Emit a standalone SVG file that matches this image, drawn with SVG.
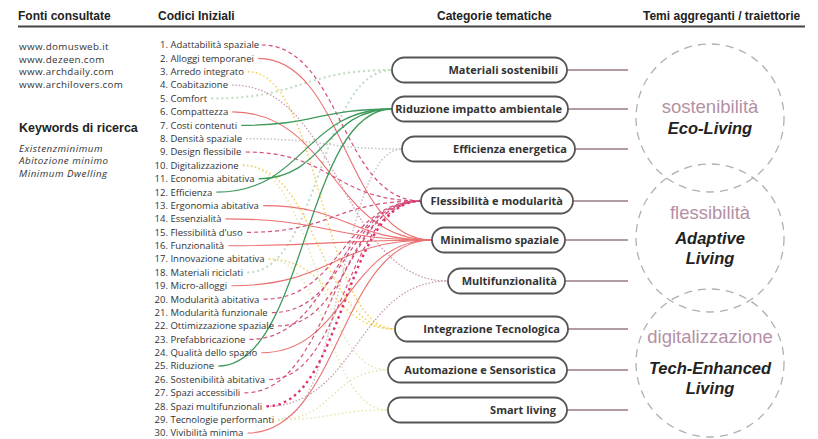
<svg xmlns="http://www.w3.org/2000/svg" width="818" height="439" viewBox="0 0 818 439">
<style>
.hdr{font-family:"Liberation Sans",Arial,sans-serif;font-weight:bold;font-size:12px;fill:#222}
.src{font-family:"Open Sans",sans-serif;font-size:9.8px;letter-spacing:0.35px;fill:#333}
.kwt{font-family:"Liberation Sans",Arial,sans-serif;font-weight:bold;font-size:12.5px;fill:#222}
.kw{font-family:"Open Sans",sans-serif;font-style:italic;font-size:9.8px;letter-spacing:0.5px;fill:#333}
.code{font-family:"Open Sans",sans-serif;font-size:9.5px;fill:#333}
.box{fill:#fff;stroke:#555;stroke-width:1.8}
.cat{font-family:"Open Sans",sans-serif;font-weight:bold;font-size:11px;fill:#333;text-anchor:end}
.out{stroke:#9a7a88;stroke-width:1.5;fill:none}
.circ{fill:none;stroke:#b0b0b0;stroke-width:1.3;stroke-dasharray:8 6}
.theme{font-family:"Liberation Sans",Arial,sans-serif;font-size:18.5px;fill:#b58fa5;text-anchor:middle}
.eng{font-family:"Liberation Sans",Arial,sans-serif;font-weight:bold;font-style:italic;font-size:16.5px;fill:#222;text-anchor:middle}
#connectors path{fill:none}
.g{stroke:#3e9a5c;stroke-width:1.3}
.r{stroke:#ec7070;stroke-width:1.1}
.m{stroke:#d4507e;stroke-width:1.2;stroke-dasharray:4 3}
.mh{stroke:#e0306e;stroke-width:2.4;stroke-dasharray:2.5 3.5}
.pg{stroke:#bfdcc0;stroke-width:2;stroke-dasharray:2 3}
.gr{stroke:#c4c4c4;stroke-width:1.5;stroke-dasharray:1.5 2}
.mv{stroke:#c89ab0;stroke-width:1.3;stroke-dasharray:1.5 1.8}
.y{stroke:#f2d35a;stroke-width:1.6;stroke-dasharray:1.5 2.5}
.py{stroke:#e4e6b4;stroke-width:1.6;stroke-dasharray:1.5 2.5}
</style>

<g id="headers">
<text class="hdr" x="18" y="20">Fonti consultate</text>
<text class="hdr" x="158" y="20">Codici Iniziali</text>
<text class="hdr" x="437" y="20">Categorie tematiche</text>
<text class="hdr" x="643" y="20">Temi aggreganti / traiettorie</text>
<line x1="18" y1="26.5" x2="805" y2="26.5" stroke="#444" stroke-width="2"/>
</g>

<g id="sources">
<text class="src" x="19" y="50">www.domusweb.it</text>
<text class="src" x="19" y="62.5">www.dezeen.com</text>
<text class="src" x="19" y="75">www.archdaily.com</text>
<text class="src" x="19" y="87.5">www.archilovers.com</text>
<text class="kwt" x="19" y="132">Keywords di ricerca</text>
<text class="kw" x="19" y="151.5">Existenzminimum</text>
<text class="kw" x="19" y="164">Abitozione minimo</text>
<text class="kw" x="19" y="176.5">Minimum Dwelling</text>
</g>

<g id="connectors">
<path class="pg" d="M211.2,98.5 C301.6,98.5 301.6,70 392,70"/>
<path class="pg" d="M247.3,272.5 C319.7,272.5 319.7,70 392,70"/>
<path class="gr" d="M246.1,138.7 C324,138.7 324,149 402,149"/>
<path class="gr" d="M278.3,419.6 C340.2,419.6 340.2,149 402,149"/>
<path class="py" d="M242.9,165.4 C315.5,165.4 315.5,370 388,370"/>
<path class="py" d="M278.3,419.6 C333.2,419.6 333.2,370 388,370"/>
<path class="py" d="M268.8,259.1 C328.4,259.1 328.4,410 388,410"/>
<path class="py" d="M278.3,419.6 C333.2,419.6 333.2,410 388,410"/>
<path class="y" d="M247.9,71.8 C321.5,71.8 321.5,329 395,329"/>
<path class="y" d="M242.9,165.4 C319,165.4 319,329 395,329"/>
<path class="y" d="M268.8,259.1 C331.9,259.1 331.9,329 395,329"/>
<path class="mv" d="M232.1,85.1 C340,85.1 340,281 448,281"/>
<path class="mv" d="M266.5,406.3 C357.3,406.3 357.3,281 448,281"/>
<path class="r" d="M258.2,58.4 C345.1,58.4 345.1,240 432,240"/>
<path class="r" d="M232.3,111.9 C332.2,111.9 332.2,240 432,240"/>
<path class="r" d="M263.1,205.6 C347.6,205.6 347.6,240 432,240"/>
<path class="r" d="M225.6,218.9 C328.8,218.9 328.8,240 432,240"/>
<path class="r" d="M228.3,245.7 C330.2,245.7 330.2,240 432,240"/>
<path class="r" d="M231.4,285.8 C331.7,285.8 331.7,240 432,240"/>
<path class="r" d="M261.4,352.7 C346.7,352.7 346.7,240 432,240"/>
<path class="r" d="M247.7,433 C339.9,433 339.9,240 432,240"/>
<path class="m" d="M261.7,45 C341.4,45 341.4,201 421,201"/>
<path class="m" d="M245.6,152 C333.3,152 333.3,201 421,201"/>
<path class="m" d="M246.9,232.3 C334,232.3 334,201 421,201"/>
<path class="m" d="M263.6,299.2 C342.3,299.2 342.3,201 421,201"/>
<path class="m" d="M271.9,312.6 C346.5,312.6 346.5,201 421,201"/>
<path class="m" d="M277.9,326 C349.5,326 349.5,201 421,201"/>
<path class="m" d="M249.4,339.4 C335.2,339.4 335.2,201 421,201"/>
<path class="m" d="M269.1,379.5 C345,379.5 345,201 421,201"/>
<path class="m" d="M244.4,392.9 C332.7,392.9 332.7,201 421,201"/>
<path class="mh" d="M266.5,406.3 C343.8,406.3 343.8,201 421,201"/>
<path class="g" d="M241.2,125.3 C316.6,125.3 316.6,109 392,109"/>
<path class="g" d="M258.6,178.8 C325.3,178.8 325.3,109 392,109"/>
<path class="g" d="M216.4,192.2 C304.2,192.2 304.2,109 392,109"/>
<path class="g" d="M218.2,366.1 C305.1,366.1 305.1,109 392,109"/>
<line class="out" x1="567" y1="70" x2="628" y2="70"/>
<line class="out" x1="568" y1="109" x2="628" y2="109"/>
<line class="out" x1="575" y1="149" x2="628" y2="149"/>
<line class="out" x1="573" y1="201" x2="628" y2="201"/>
<line class="out" x1="565" y1="240" x2="628" y2="240"/>
<line class="out" x1="565" y1="281" x2="628" y2="281"/>
<line class="out" x1="568" y1="329" x2="628" y2="329"/>
<line class="out" x1="567" y1="370" x2="628" y2="370"/>
<line class="out" x1="567" y1="410" x2="628" y2="410"/>
</g>

<g id="codes">
<text class="code" x="160" y="48.3">1. Adattabilità spaziale</text>
<text class="code" x="160" y="61.7">2. Alloggi temporanei</text>
<text class="code" x="160" y="75.1">3. Arredo integrato</text>
<text class="code" x="160" y="88.4">4. Coabitazione</text>
<text class="code" x="160" y="101.8">5. Comfort</text>
<text class="code" x="160" y="115.2">6. Compattezza</text>
<text class="code" x="160" y="128.6">7. Costi contenuti</text>
<text class="code" x="160" y="142">8. Densità spaziale</text>
<text class="code" x="160" y="155.3">9. Design flessibile</text>
<text class="code" x="154.6" y="168.7">10. Digitalizzazione</text>
<text class="code" x="154.6" y="182.1">11. Economia abitativa</text>
<text class="code" x="154.6" y="195.5">12. Efficienza</text>
<text class="code" x="154.6" y="208.9">13. Ergonomia abitativa</text>
<text class="code" x="154.6" y="222.2">14. Essenzialità</text>
<text class="code" x="154.6" y="235.6">15. Flessibilità d'uso</text>
<text class="code" x="154.6" y="249">16. Funzionalità</text>
<text class="code" x="154.6" y="262.4">17. Innovazione abitativa</text>
<text class="code" x="154.6" y="275.8">18. Materiali riciclati</text>
<text class="code" x="154.6" y="289.1">19. Micro-alloggi</text>
<text class="code" x="154.6" y="302.5">20. Modularità abitativa</text>
<text class="code" x="154.6" y="315.9">21. Modularità funzionale</text>
<text class="code" x="154.6" y="329.3">22. Ottimizzazione spaziale</text>
<text class="code" x="154.6" y="342.7">23. Prefabbricazione</text>
<text class="code" x="154.6" y="356">24. Qualità dello spazio</text>
<text class="code" x="154.6" y="369.4">25. Riduzione</text>
<text class="code" x="154.6" y="382.8">26. Sostenibilità abitativa</text>
<text class="code" x="154.6" y="396.2">27. Spazi accessibili</text>
<text class="code" x="154.6" y="409.6">28. Spazi multifunzionali</text>
<text class="code" x="154.6" y="422.9">29. Tecnologie performanti</text>
<text class="code" x="154.6" y="436.3">30. Vivibilità minima</text>
</g>

<g id="cat-materiali"><rect class="box" x="392" y="57.5" width="175" height="25" rx="12.5"/><text class="cat" x="558" y="74">Materiali sostenibili</text></g>
<g id="cat-riduzione"><rect class="box" x="392" y="96.5" width="176" height="25" rx="12.5"/><text class="cat" x="562" y="113">Riduzione impatto ambientale</text></g>
<g id="cat-efficienza"><rect class="box" x="402" y="136.5" width="173" height="25" rx="12.5"/><text class="cat" x="567" y="153">Efficienza energetica</text></g>
<g id="cat-flessibilita"><rect class="box" x="421" y="188.5" width="152" height="25" rx="12.5"/><text class="cat" x="563" y="205">Flessibilità e modularità</text></g>
<g id="cat-minimalismo"><rect class="box" x="432" y="227.5" width="133" height="25" rx="12.5"/><text class="cat" x="559" y="244">Minimalismo spaziale</text></g>
<g id="cat-multifunzionalita"><rect class="box" x="448" y="268.5" width="117" height="25" rx="12.5"/><text class="cat" x="557" y="285">Multifunzionalità</text></g>
<g id="cat-integrazione"><rect class="box" x="395" y="316.5" width="173" height="25" rx="12.5"/><text class="cat" x="560" y="333">Integrazione Tecnologica</text></g>
<g id="cat-automazione"><rect class="box" x="388" y="357.5" width="179" height="25" rx="12.5"/><text class="cat" x="556" y="374">Automazione e Sensoristica</text></g>
<g id="cat-smart"><rect class="box" x="388" y="397.5" width="179" height="25" rx="12.5"/><text class="cat" x="556" y="414">Smart living</text></g>

<g id="theme-sostenibilita"><circle class="circ" cx="710" cy="118" r="74"/><text class="theme" x="710" y="113">sostenibilità</text><text class="eng" x="710" y="134">Eco-Living</text></g>
<g id="theme-flessibilita"><circle class="circ" cx="710" cy="238" r="74"/><text class="theme" x="710" y="219">flessibilità</text><text class="eng" x="710" y="244">Adaptive</text><text class="eng" x="710" y="264">Living</text></g>
<g id="theme-digitalizzazione"><circle class="circ" cx="710" cy="363" r="74"/><text class="theme" x="710" y="343">digitalizzazione</text><text class="eng" x="710" y="374">Tech-Enhanced</text><text class="eng" x="710" y="394">Living</text></g>
</svg>
